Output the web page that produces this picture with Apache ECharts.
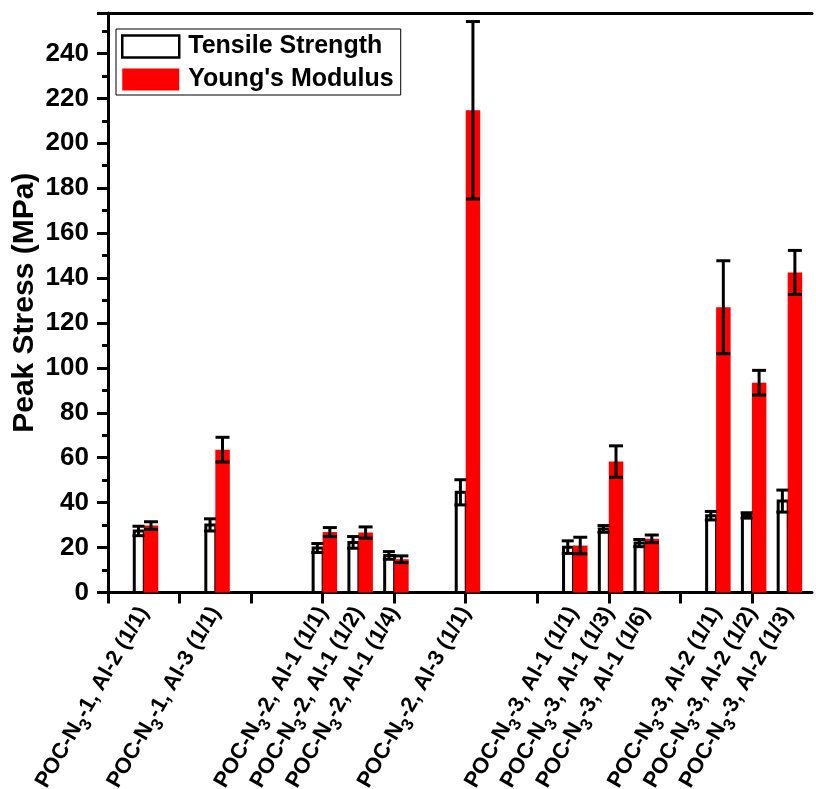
<!DOCTYPE html>
<html>
<head>
<meta charset="utf-8">
<script src="https://cdn.jsdelivr.net/npm/echarts@6/dist/echarts.min.js"></script>
<style>
  html, body { margin: 0; padding: 0; background: #fff; }
  #chart { width: 816px; height: 789px; }
</style>
</head>
<body>
<div id="chart"></div>
<script>
// 样品名称 (N{s|3} 为下标)
var labels = [
    'POC-N{s|3}-1, Al-2 (1/1)',
    'POC-N{s|3}-1, Al-3 (1/1)',
    'POC-N{s|3}-2, Al-1 (1/1)',
    'POC-N{s|3}-2, Al-1 (1/2)',
    'POC-N{s|3}-2, Al-1 (1/4)',
    'POC-N{s|3}-2, Al-3 (1/1)',
    'POC-N{s|3}-3, Al-1 (1/1)',
    'POC-N{s|3}-3, Al-1 (1/3)',
    'POC-N{s|3}-3, Al-1 (1/6)',
    'POC-N{s|3}-3, Al-2 (1/1)',
    'POC-N{s|3}-3, Al-2 (1/2)',
    'POC-N{s|3}-3, Al-2 (1/3)'
];
// x 位置
var positions = [0.5, 1.5, 3, 3.5, 4, 5, 6.5, 7, 7.5, 8.5, 9, 9.5];
var xTicks = [0, 1, 2, 3, 4, 5, 6, 7, 8, 9];

var tensile    = [27.4, 30.1, 19.8, 22.3, 16.5, 44.6, 20.2, 28.3, 22.0, 34.2, 34.3, 40.7];
var tensileErr = [2.1, 2.7, 2.0, 2.6, 1.7, 5.6, 2.8, 1.5, 1.6, 1.9, 1.2, 4.9];
var modulus    = [29.8, 63.6, 26.9, 26.7, 14.8, 214.7, 20.9, 58.3, 23.9, 127.0, 93.4, 142.5];
var modulusErr = [1.7, 5.5, 2.0, 2.5, 1.5, 39.5, 3.7, 7.0, 1.7, 20.7, 5.5, 9.8];

(function() {
    var myChart = echarts.init(document.getElementById('chart'));
    var FONT = '"Liberation Sans", Arial, sans-serif';

    // 标签顺序打乱一下, 首尾两对不重叠, 免得 echarts 自动隐藏最小/最大标签
    var n = positions.length;
    var labelValues = [positions[0], positions[n - 1]]
        .concat(positions.slice(2, n - 1))
        .concat([positions[1]]);

    function pairs(vals, errs) {
        return positions.map(function(p, i) { return [p, vals[i], errs[i]]; });
    }

    // 柱子: from/to 为相对组中心的像素偏移
    function barItem(from, to, style) {
        return function(params, api) {
            var base = api.coord([api.value(0), 0]);
            var top = api.coord([api.value(0), api.value(1)]);
            return {
                type: 'rect',
                shape: { x: base[0] + from, y: top[1], width: to - from, height: base[1] - top[1] },
                style: style
            };
        };
    }

    // 误差棒
    function errItem(dx, cap) {
        return function(params, api) {
            var x = api.value(0), v = api.value(1), e = api.value(2);
            var hi = api.coord([x, v + e]);
            var lo = api.coord([x, v - e]);
            var cx = hi[0] + dx;
            var st = { stroke: '#000', lineWidth: 3 };
            return {
                type: 'group',
                children: [
                    { type: 'line', shape: { x1: cx, y1: hi[1], x2: cx, y2: lo[1] }, style: st },
                    { type: 'line', shape: { x1: cx - cap / 2, y1: hi[1], x2: cx + cap / 2, y2: hi[1] }, style: st },
                    { type: 'line', shape: { x1: cx - cap / 2, y1: lo[1], x2: cx + cap / 2, y2: lo[1] }, style: st }
                ]
            };
        };
    }

    var option = {
        animation: false,
        backgroundColor: '#fff',
        grid: { left: 108, right: 4, top: 13, bottom: 196.5, containLabel: false, outerBoundsMode: 'none' },
        legend: {
            left: 116,
            top: 29,
            orient: 'vertical',
            borderColor: '#000',
            borderWidth: 1,
            padding: [5, 7, 3, 5],
            itemWidth: 57,
            itemHeight: 22,
            itemGap: 8,
            textStyle: { fontFamily: FONT, fontSize: 25, fontWeight: 'bold', color: '#000', padding: [0, 0, 0, 4] },
            data: [
                { name: 'Tensile Strength', icon: 'rect', itemStyle: { color: '#fff', borderColor: '#000', borderWidth: 2.5 } },
                { name: "Young's Modulus", icon: 'rect', itemStyle: { color: '#ff0000', borderWidth: 0 } }
            ]
        },
        xAxis: [{
            type: 'value',
            min: 0,
            max: 9.84,
            interval: 1,
            axisLine: { lineStyle: { color: '#000', width: 3 } },
            axisTick: { customValues: xTicks, length: 11, lineStyle: { color: '#000', width: 3 } },
            splitLine: { show: false },
            axisLabel: {
                customValues: labelValues,
                hideOverlap: false,
                rotate: 60,
                margin: 16,
                fontFamily: FONT,
                fontSize: 22,
                fontWeight: 'bold',
                color: '#000',
                lineHeight: 34,
                formatter: function(v) {
                    var i = positions.indexOf(v);
                    return i < 0 ? '' : labels[i];
                },
                rich: {
                    s: { fontFamily: FONT, fontSize: 17, fontWeight: 'bold', color: '#000', lineHeight: 17, verticalAlign: 'bottom' }
                }
            }
        }, {
            type: 'value',
            position: 'top',
            min: 0,
            max: 9.84,
            axisLine: { show: true, lineStyle: { color: '#000', width: 3 } },
            axisTick: { show: false },
            axisLabel: { show: false },
            splitLine: { show: false }
        }],
        yAxis: {
            type: 'value',
            min: 0,
            max: 258,
            interval: 20,
            name: 'Peak Stress (MPa)',
            nameLocation: 'middle',
            nameGap: 68,
            nameMoveOverlap: false,
            nameTextStyle: { fontFamily: FONT, fontSize: 30, fontWeight: 'bold', color: '#000' },
            axisLine: { show: true, lineStyle: { color: '#000', width: 3 } },
            axisTick: { length: 11, lineStyle: { color: '#000', width: 3 } },
            minorTick: { show: true, splitNumber: 2, length: 6, lineStyle: { color: '#000', width: 3 } },
            splitLine: { show: false },
            axisLabel: {
                margin: 19,
                showMaxLabel: false,
                fontFamily: FONT,
                fontSize: 26,
                fontWeight: 'bold',
                color: '#000'
            }
        },
        series: [{
            name: 'Tensile Strength',
            type: 'custom',
            itemStyle: { color: '#fff', borderColor: '#000' },
            renderItem: barItem(-9.5, 0.5, { fill: '#fff', stroke: '#000', lineWidth: 3 }),
            encode: { x: 0, y: 1 },
            data: pairs(tensile, tensileErr),
            z: 2
        }, {
            name: "Young's Modulus",
            type: 'custom',
            itemStyle: { color: '#ff0000' },
            renderItem: barItem(0, 14.5, { fill: '#ff0000' }),
            encode: { x: 0, y: 1 },
            data: pairs(modulus, modulusErr),
            z: 3
        }, {
            name: 'tensileErr',
            type: 'custom',
            renderItem: errItem(-5.3, 12),
            encode: { x: 0, y: [1] },
            data: pairs(tensile, tensileErr),
            z: 4
        }, {
            name: 'modulusErr',
            type: 'custom',
            renderItem: errItem(7.2, 14),
            encode: { x: 0, y: [1] },
            data: pairs(modulus, modulusErr),
            z: 4
        }]
    };

    myChart.setOption(option);

    window.addEventListener('resize', function() {
        myChart.resize();
    });
})();
</script>
</body>
</html>
